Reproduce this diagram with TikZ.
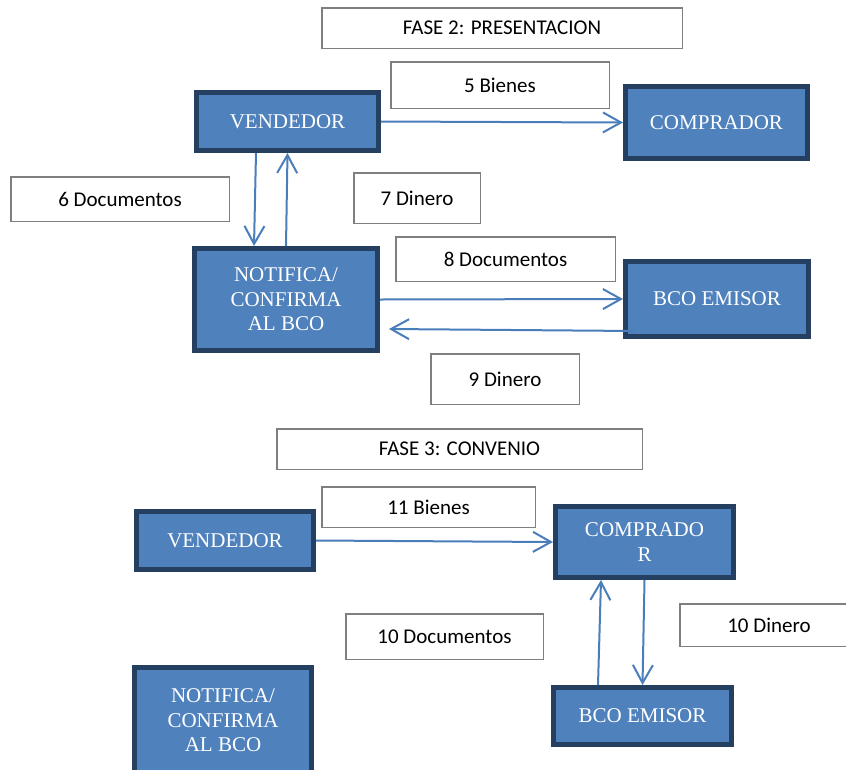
\documentclass[tikz,border=0pt]{standalone}
\usepackage{fontspec}
\setmainfont{Liberation Serif}
\newfontfamily\tagfont{Carlito}
\usetikzlibrary{arrows.meta}

\definecolor{boxfill}{HTML}{4F81BD}
\definecolor{boxline}{HTML}{243F60}
\definecolor{flowblue}{HTML}{4A7EBB}
\definecolor{tagline}{HTML}{7F7F7F}

\begin{document}
\begin{tikzpicture}[x=1pt, y=-1pt, line join=miter,
  actor/.style={draw=boxline, fill=boxfill, line width=5pt, text=white,
    font=\fontsize{21}{24.5}\selectfont, align=center, inner sep=0pt},
  tag/.style={draw=tagline, fill=white, line width=1.5pt,
    font=\tagfont\fontsize{21}{25}\selectfont, inner sep=0pt},
  flow/.style={flowblue, line width=2pt,
    -{Straight Barb[length=18pt, width=20pt, line width=2pt]}}]

  \useasboundingbox (0,0) rectangle (846,769);

  % Fase 2: presentacion
  \node[tag, minimum width=360.5pt, minimum height=40.5pt] (fase2) at (502,28) {FASE 2: PRESENTACION};
  \node[tag, minimum width=218.5pt, minimum height=46.5pt] (bienes5) at (500,85) {5 Bienes};
  \node[tag, minimum width=218.5pt, minimum height=44.5pt] (doc6) at (120,199) {6 Documentos};
  \node[tag, minimum width=126.5pt, minimum height=50.5pt] (din7) at (417,198) {7 Dinero};
  \node[tag, minimum width=219.5pt, minimum height=44.5pt] (doc8) at (505.5,259) {8 Documentos};
  \node[tag, minimum width=148.5pt, minimum height=50.5pt] (din9) at (505,379) {9 Dinero};

  \node[actor, minimum width=182pt, minimum height=58pt] (vendA) at (287.5,121.5) {VENDEDOR};
  \node[actor, minimum width=182pt, minimum height=72pt] (compA) at (716.5,122.5) {COMPRADOR};
  \node[actor, minimum width=183pt, minimum height=102pt] (notA) at (286,299.5) {NOTIFICA/\\CONFIRMA\\AL BCO};
  \node[actor, minimum width=183pt, minimum height=75pt] (bcoA) at (717,299) {BCO EMISOR};

  \draw[flow] (vendA.east) -- (compA.west);
  \draw[flow] ([shift={(-31.5,0)}]vendA.south) -- ([shift={(-32,0)}]notA.north);
  \draw[flow] (notA.north) -- (vendA.south);
  \draw[flow] (notA.east) -- (bcoA.west);
  \draw[flow] ([shift={(12,32)}]bcoA.west) -- ([shift={(9,29.5)}]notA.east);

  % Fase 3: convenio
  \node[tag, minimum width=365.5pt, minimum height=40.5pt] (fase3) at (459.5,449) {FASE 3: CONVENIO};
  \node[tag, minimum width=213.5pt, minimum height=40.5pt] (bienes11) at (428.5,507) {11 Bienes};
  \node[tag, minimum width=197.5pt, minimum height=45.5pt] (doc10) at (444.5,636.5) {10 Documentos};
  \node[tag, minimum width=178.5pt, minimum height=42.5pt] (din10) at (769,625) {10 Dinero};

  \node[actor, minimum width=177pt, minimum height=58pt] (vendB) at (225,540.5) {VENDEDOR};
  \node[actor, minimum width=178pt, minimum height=71pt] (compB) at (644.5,542) {COMPRADO\\R};
  \node[actor, minimum width=177pt, minimum height=106pt] (notB) at (223,720.5) {NOTIFICA/\\CONFIRMA\\AL BCO};
  \node[actor, minimum width=178pt, minimum height=57pt] (bcoB) at (642.5,716) {BCO EMISOR};

  \draw[flow] (vendB.east) -- (compB.west);
  \draw[flow] ([shift={(-44.5,0)}]bcoB.north) -- ([shift={(-43.5,0)}]compB.south);
  \draw[flow] (compB.south) -- (bcoB.north);

\end{tikzpicture}
\end{document}
